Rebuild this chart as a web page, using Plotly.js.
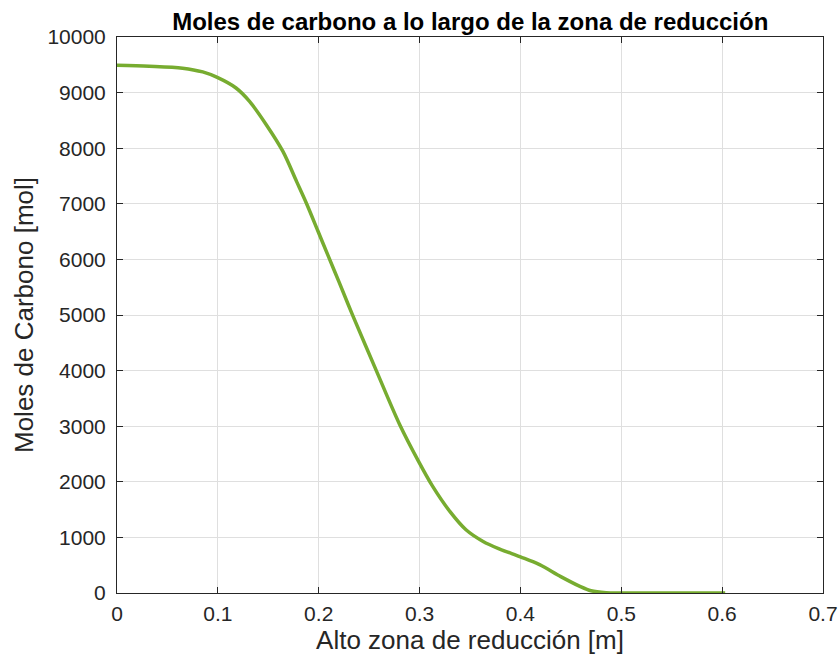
<!DOCTYPE html>
<html>
<head>
<meta charset="utf-8">
<script src="https://cdn.plot.ly/plotly-3.0.1.min.js"></script>
<style>html,body{margin:0;padding:0;background:#fff;}#chart{width:839px;height:666px;}</style>
</head>
<body>
<div id="chart"></div>
<script>
// Height along the reduction zone [m]
const altura = [0, 0.032, 0.065, 0.085, 0.0994, 0.118, 0.1314, 0.148, 0.1645, 0.178, 0.188, 0.199, 0.209, 0.22, 0.234, 0.257, 0.28, 0.299, 0.313, 0.33, 0.346, 0.363, 0.3795, 0.40, 0.419, 0.44, 0.459, 0.47, 0.485, 0.50, 0.55, 0.603];
// Carbon moles [mol]
const molesCarbono = [9490, 9474, 9440, 9372, 9273, 9083, 8842, 8423, 7942, 7403, 7002, 6520, 6080, 5600, 4980, 4004, 3040, 2367, 1917, 1468, 1138, 928, 791, 650, 509, 295, 119, 40, 5, 0, 0, 0];

const xTicks = [0, 0.1, 0.2, 0.3, 0.4, 0.5, 0.6, 0.7];
const yTicks = [0, 1000, 2000, 3000, 4000, 5000, 6000, 7000, 8000, 9000, 10000];

const font = "Liberation Sans, Arial, Helvetica, sans-serif";
const trace = {
  x: altura, y: molesCarbono, type: 'scatter', mode: 'lines',
  line: {color: '#77AC30', width: 3.5, shape: 'spline', smoothing: 0.9},
  hoverinfo: 'skip'
};
const axisCommon = {
  showline: true, linecolor: '#262626', linewidth: 1, mirror: 'ticks',
  ticks: 'inside', ticklen: 6, tickcolor: '#262626', tickwidth: 1,
  showgrid: true, gridcolor: '#dfdfdf', gridwidth: 1, zeroline: false,
  tickfont: {family: font, size: 21, color: '#262626'}
};
const layout = {
  width: 839, height: 666,
  margin: {l: 117, r: 16, t: 37, b: 73},
  paper_bgcolor: '#ffffff', plot_bgcolor: '#ffffff',
  showlegend: false,
  title: {text: '<b>Moles de carbono a lo largo de la zona de reducción</b>',
          font: {family: font, size: 24, color: '#000000'},
          x: 0.5605, xanchor: 'center', y: 0.968, yanchor: 'middle'},
  xaxis: Object.assign({}, axisCommon, {
    range: [0, 0.7], tickvals: xTicks, ticktext: xTicks.map(String),
    ticklabelstandoff: 2,
    title: {text: 'Alto zona de reducción [m]', font: {family: font, size: 26, color: '#262626'}, standoff: 2}
  }),
  yaxis: Object.assign({}, axisCommon, {
    range: [0, 10000], tickvals: yTicks, ticktext: yTicks.map(String),
    ticklabelstandoff: 6,
    title: {text: 'Moles de Carbono [mol]', font: {family: font, size: 26, color: '#262626'}, standoff: 6}
  })
};
Plotly.newPlot('chart', [trace], layout, {displayModeBar: false, staticPlot: true});
</script>
</body>
</html>
